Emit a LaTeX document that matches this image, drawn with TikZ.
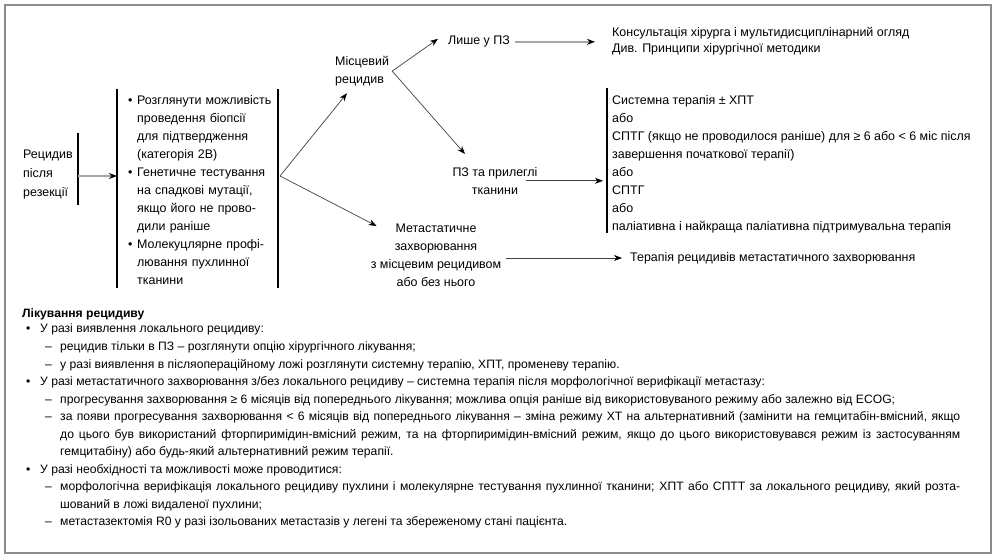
\documentclass[tikz,border=0pt]{standalone}
\usepackage{fontspec}
\setmainfont{Liberation Sans}
\usetikzlibrary{arrows.meta, positioning}
\tikzset{
	recurrence chart/.cd,
	frame/.style = {
		draw = black!45,
		line width = 1.3bp
	},
	bar/.style = {
		line width = 2bp
	},
	link/.style = {
		draw = black!75,
		line width = 0.7bp,
		-{Stealth[black, length = 8bp, width = 6bp, inset = 2.5bp]}
	},
	light link/.style = {
		draw = black!35,
		line width = 1.6bp,
		-{Stealth[black, length = 8bp, width = 6bp, inset = 2.5bp]}
	},
}
\newcommand{\boxitem}[1]{\par\leftskip=8bp\hangindent=9bp\hangafter=1\noindent\makebox[9bp][l]{•}#1}
\newcommand{\noteone}[1]{\par\leftskip=4bp\hangindent=14bp\hangafter=1\noindent\makebox[14bp][l]{•}#1}
\newcommand{\notetwo}[1]{\par\leftskip=23bp\hangindent=15bp\hangafter=1\noindent\makebox[15bp][l]{–}#1}

\begin{document}
\begin{tikzpicture}[
		x = 1bp, y = -1bp,
		flowtext/.style = {
			font = \fontsize{12.5}{18.1}\selectfont,
			inner sep = 0pt,
			align = left
		},
		branchbox/.style = {
			flowtext,
			inner xsep = 5bp,
			inner ysep = 0pt
		}]
		\useasboundingbox (0, 0) rectangle (996, 556);
		\draw[recurrence chart/frame] (5, 5) rectangle (991, 553);

		% first steps after resection
		\node[branchbox, anchor = north east, font = \fontsize{12.5}{19}\selectfont] (resection) at (78, 150) {Рецидив\\після\\резекції};
		\node[flowtext, anchor = north west, text width = 155bp, inner xsep = 3bp] (workup) at (117, 86) {%
			\boxitem{Розглянути можливість\newline проведення біопсії\newline для підтвердження\newline (категорія 2B)}%
			\boxitem{Генетичне тестування\newline на спадкові мутації,\newline якщо його не прово-\newline дили раніше}%
			\boxitem{Молекуцлярне профі-\newline лювання пухлинної\newline тканини}\par};
		\draw[recurrence chart/bar] ([yshift = 17bp]resection.north east) -- ([yshift = -6bp]resection.south east);
		\draw[recurrence chart/bar] ([yshift = -3bp]workup.north west) -- ([yshift = -3bp]workup.south west);
		\draw[recurrence chart/bar] ([yshift = -3bp]workup.north east) -- ([yshift = -3bp]workup.south east);
		\coordinate (fork) at (280, 176);
		\draw[recurrence chart/light link] (resection.east |- fork) -- (workup.west |- fork);

		% local or metastatic
		\node[flowtext, anchor = north west] (local) at (335, 56) {Місцевий\\рецидив};
		\node[flowtext, anchor = north, align = center] (metastatic) at (436, 224) {Метастатичне\\захворювання\\з місцевим рецидивом\\або без нього};
		\draw[recurrence chart/link] (fork) -- ([xshift = 12bp, yshift = -7bp]local.south west);
		\draw[recurrence chart/link] (fork) -- ([xshift = 6bp, yshift = -2bp]metastatic.north west);

		% local recurrence
		\node[flowtext, anchor = north west] (onlybed) at (448, 36) {Лише у ПЗ};
		\node[flowtext, anchor = north, align = center] (adjacent) at (495, 167) {ПЗ та прилеглі\\тканини};
		\draw[recurrence chart/link] ([xshift = 3bp]local.east) -- ([xshift = -10bp, yshift = 3bp]onlybed.west);
		\draw[recurrence chart/link] ([xshift = 3bp]local.east) -- ([xshift = -30bp, yshift = 13bp]adjacent.north);

		% treatment options
		\node[flowtext, anchor = north west, font = \fontsize{12.5}{16}\selectfont] (consult) at (612, 27) {Консультація хірурга і мультидисциплінарний огляд\\Див. Принципи хірургічної методики};
		\node[branchbox, anchor = north west] (systemic) at (607, 95) {Системна терапія ± ХПТ\\або\\СПТГ (якщо не проводилося раніше) для ≥ 6 або < 6 міс після\\завершення початкової терапії)\\або\\СПТГ\\або\\паліативна і найкраща паліативна підтримувальна терапія};
		\node[flowtext, anchor = west] (metatherapy) at (630, 258) {Терапія рецидивів метастатичного захворювання};
		\draw[recurrence chart/bar] ([yshift = 7bp]systemic.north west) -- (systemic.south west);
		\draw[recurrence chart/light link] ([xshift = 5bp]onlybed.east) -- ([xshift = -17bp]consult.west |- onlybed.east);
		\draw[recurrence chart/link] ([xshift = -12bp]adjacent.east) -- ([xshift = -4bp]systemic.west |- adjacent.east);
		\draw[recurrence chart/link] ([xshift = 5bp]metastatic.east |- metatherapy.west) -- ([xshift = -8bp]metatherapy.west);

		% notes below the chart
		\node[anchor = north west, inner sep = 0pt, text width = 938bp, align = justify, font = \fontsize{12.2}{17.6}\selectfont] (notes) at (22, 308) {%
			\hyphenpenalty=10000\tolerance=10000
			\noindent{\bfseries Лікування рецидиву}\par\vspace{-1.6bp}%
			\noteone{У разі виявлення локального рецидиву:}%
			\notetwo{рецидив тільки в ПЗ – розглянути опцію хірургічного лікування;}%
			\notetwo{у разі виявлення в післяопераційному ложі розглянути системну терапію, ХПТ, променеву терапію.}%
			\noteone{У разі метастатичного захворювання з/без локального рецидиву – системна терапія після морфологічної верифікації метастазу:}%
			\notetwo{прогресування захворювання ≥ 6 місяців від попереднього лікування; можлива опція раніше від використовуваного режиму або залежно від ECOG;}%
			\notetwo{за появи прогресування захворювання < 6 місяців від попереднього лікування – зміна режиму ХТ на альтернативний (замінити на гемцитабін-вмісний, якщо\linebreak до цього був використаний фторпиримідин-вмісний режим, та на фторпиримідин-вмісний режим, якщо до цього використовувався режим із застосуванням\linebreak гемцитабіну) або будь-який альтернативний режим терапії.}%
			\noteone{У разі необхідності та можливості може проводитися:}%
			\notetwo{морфологічна верифікація локального рецидиву пухлини і молекулярне тестування пухлинної тканини; ХПТ або СПТТ за локального рецидиву, який розта-\linebreak шований в ложі видаленої пухлини;}%
			\notetwo{метастазектомія R0 у разі ізольованих метастазів у легені та збереженому стані пацієнта.}\par};
	\end{tikzpicture}
\end{document}
